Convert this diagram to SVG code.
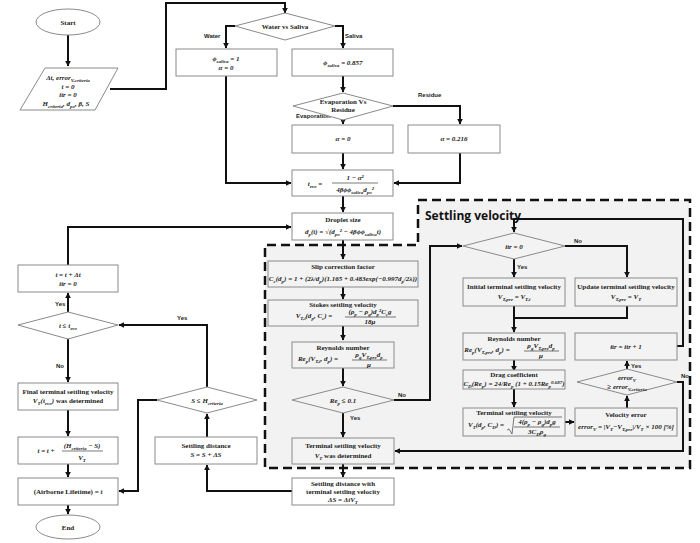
<svg xmlns="http://www.w3.org/2000/svg" width="700" height="543" viewBox="0 0 700 543">
<style>
.b{fill:#fff;stroke:#8a8a8a;stroke-width:1}
.g{fill:#f3f3f3;stroke:#8a8a8a;stroke-width:1}
.t{font-family:"Liberation Serif",serif;font-size:7px;font-weight:bold;fill:#222;text-anchor:middle}
.m{font-style:italic}
.s{font-size:5px}
.l{font-family:"Liberation Sans",sans-serif;font-size:6px;font-weight:bold;fill:#222}
.c{fill:none;stroke:#111;stroke-width:2}
.f{fill:none;stroke:#222;stroke-width:0.6}
</style>
<defs><marker id="a" viewBox="0 0 10 10" refX="9" refY="5" markerWidth="3" markerHeight="3" orient="auto"><path d="M0,0L10,5L0,10z" fill="#111"/></marker></defs>
<path d="M418,200H690V468H265V245H418Z" fill="#f2f2f2" stroke="#111" stroke-width="2.5" stroke-dasharray="9,5"/>
<text x="425" y="220" font-family="Open Sans,Liberation Sans,sans-serif" font-size="12" font-weight="bold" fill="#111">Settling velocity</text>
<g id="connectors" marker-end="url(#a)">
<path class="c" d="M68,35V66"/>
<path class="c" d="M110,89H166V3H285V13"/>
<path class="c" d="M235,26H226V48"/>
<path class="c" d="M335,26H343V48"/>
<path class="c" d="M343,76V92"/>
<path class="c" d="M343,120V124"/>
<path class="c" d="M393,106H460V124"/>
<path class="c" d="M343,153V169"/>
<path class="c" d="M226,76V183H291"/>
<path class="c" d="M460,153V183H394"/>
<path class="c" d="M343,196V212"/>
<path class="c" d="M343,240V259"/>
<path class="c" d="M343,287V299"/>
<path class="c" d="M343,326V340"/>
<path class="c" d="M343,368V386"/>
<path class="c" d="M343,413V437"/>
<path class="c" d="M343,464V477"/>
<path class="c" d="M394,400H430V246H462"/>
<path class="c" d="M514,259V277"/>
<path class="c" d="M565,246H627V277"/>
<path class="c" d="M514,306V318M627,306V318H514V332"/>
<path class="c" d="M514,360V371"/>
<path class="c" d="M514,389V407"/>
<path class="c" d="M565,422H574"/>
<path class="c" d="M627,408V396"/>
<path class="c" d="M627,369V361"/>
<path class="c" d="M677,346H683V219H514V232"/>
<path class="c" d="M677,382H683V451H395"/>
<path class="c" d="M292,491H207V465"/>
<path class="c" d="M207,437V414"/>
<path class="c" d="M207,387V325H119"/>
<path class="c" d="M157,400H138V491H119"/>
<path class="c" d="M68,312V293"/>
<path class="c" d="M68,265V227H291"/>
<path class="c" d="M68,339V382"/>
<path class="c" d="M68,410V436"/>
<path class="c" d="M68,464V477"/>
<path class="c" d="M68,505V514"/>
</g>
<g class="l">
<text x="204" y="38">Water</text><text x="345" y="38">Saliva</text>
<text x="296" y="118">Evaporation</text><text x="418" y="97">Residue</text>
<text x="398" y="397">No</text><text x="350" y="420">Yes</text>
<text x="574" y="243">No</text><text x="517" y="269">Yes</text>
<text x="631" y="368">Yes</text><text x="681" y="378">No</text>
<text x="177" y="320">Yes</text><text x="55" y="306">Yes</text><text x="56" y="368">No</text>
</g>
<g id="start"><ellipse cx="68" cy="22" rx="32" ry="13" class="b"/><text x="68" y="25" class="t" font-family="Liberation Sans">Start</text></g>
<g id="input"><path d="M45,68H118L95,110H20Z" class="b"/>
<text class="t"><tspan x="68" y="80" class="m">Δt, error<tspan class="s" dy="1.5">V,criteria</tspan></tspan><tspan x="68" y="89" class="m">t = 0</tspan><tspan x="68" y="97" class="m">itr = 0</tspan><tspan x="66" y="106" class="m">H<tspan class="s" dy="1.5">criteria</tspan><tspan dy="-1.5">, d</tspan><tspan class="s" dy="1.5">po</tspan><tspan dy="-1.5">, β, S</tspan></tspan></text></g>
<g id="wvs"><path d="M285,13L335,26L285,40L235,26Z" class="b"/><text x="285" y="29" class="t" font-family="Liberation Sans">Water vs Saliva</text></g>
<g id="water"><rect x="176" y="49" width="101" height="27" class="b"/><text class="t m"><tspan x="226" y="61">ϕ<tspan class="s" dy="1.5">saliva</tspan><tspan dy="-1.5"> = 1</tspan></tspan><tspan x="226" y="70">α = 0</tspan></text></g>
<g id="saliva"><rect x="292" y="49" width="101" height="27" class="b"/><text class="t m" x="343" y="65">ϕ<tspan class="s" dy="1.5">saliva</tspan><tspan dy="-1.5"> = 0.857</tspan></text></g>
<g id="evr"><path d="M343,93L393,106L343,120L293,106Z" class="b"/><text class="t" font-family="Liberation Sans" font-size="6"><tspan x="343" y="104">Evaporation Vs</tspan><tspan x="343" y="112">Residue</tspan></text></g>
<g id="a0"><rect x="292" y="125" width="101" height="28" class="b"/><text x="343" y="141" class="t m">α = 0</text></g>
<g id="a216"><rect x="408" y="125" width="92" height="28" class="b"/><text x="454" y="141" class="t m">α = 0.216</text></g>
<g id="tevo"><rect x="292" y="170" width="101" height="26" class="b"/><text class="t m"><tspan x="315" y="186">t<tspan class="s" dy="1.5">evo</tspan><tspan dy="-1.5"> =</tspan></tspan><tspan x="355" y="180">1 − α²</tspan><tspan x="355" y="192">4βϕϕ<tspan class="s" dy="1.5">saliva</tspan><tspan dy="-1.5">d</tspan><tspan class="s" dy="1.5">po</tspan><tspan dy="-1.5">²</tspan></tspan></text><path class="f" d="M332,183H378"/></g>
<g id="droplet"><rect x="292" y="213" width="101" height="27" class="b"/><text class="t"><tspan x="343" y="222">Droplet size</tspan><tspan x="343" y="234" class="m">d<tspan class="s" dy="1.5">p</tspan><tspan dy="-1.5">(t) = √(d</tspan><tspan class="s" dy="1.5">po</tspan><tspan dy="-1.5">² − 4βϕϕ</tspan><tspan class="s" dy="1.5">saliva</tspan><tspan dy="-1.5">t)</tspan></tspan></text></g>
<g id="slip"><rect x="268" y="261" width="150" height="26" class="g"/><text class="t"><tspan x="343" y="269">Slip correction factor</tspan><tspan x="343" y="281" class="m">C<tspan class="s" dy="1.5">c</tspan><tspan dy="-1.5">(d</tspan><tspan class="s" dy="1.5">p</tspan><tspan dy="-1.5">) = 1 + (2λ/d</tspan><tspan class="s" dy="1.5">p</tspan><tspan dy="-1.5">)(1.165 + 0.483exp(−0.997d</tspan><tspan class="s" dy="1.5">p</tspan><tspan dy="-1.5">/2λ))</tspan></tspan></text></g>
<g id="stokes"><rect x="268" y="300" width="150" height="26" class="g"/><text class="t"><tspan x="343" y="307">Stokes settling velocity</tspan><tspan x="314" y="318" class="m">V<tspan class="s" dy="1.5">T,i</tspan><tspan dy="-1.5">(d</tspan><tspan class="s" dy="1.5">p</tspan><tspan dy="-1.5">, C</tspan><tspan class="s" dy="1.5">c</tspan><tspan dy="-1.5">) =</tspan></tspan><tspan x="370" y="314" class="m">(ρ<tspan class="s" dy="1.5">p</tspan><tspan dy="-1.5"> − ρ</tspan><tspan class="s" dy="1.5">g</tspan><tspan dy="-1.5">)d</tspan><tspan class="s" dy="1.5">p</tspan><tspan dy="-1.5">²C</tspan><tspan class="s" dy="1.5">c</tspan><tspan dy="-1.5">g</tspan></tspan><tspan x="370" y="324" class="m">18μ</tspan></text><path class="f" d="M345,317H396"/></g>
<g id="rey1"><rect x="292" y="342" width="102" height="26" class="g"/><text class="t"><tspan x="343" y="350">Reynolds number</tspan><tspan x="318" y="361" class="m">Re<tspan class="s" dy="1.5">p</tspan><tspan dy="-1.5">(V</tspan><tspan class="s" dy="1.5">T,i</tspan><tspan dy="-1.5">, d</tspan><tspan class="s" dy="1.5">p</tspan><tspan dy="-1.5">) =</tspan></tspan><tspan x="369" y="357" class="m">ρ<tspan class="s" dy="1.5">g</tspan><tspan dy="-1.5">V</tspan><tspan class="s" dy="1.5">T,pre</tspan><tspan dy="-1.5">d</tspan><tspan class="s" dy="1.5">p</tspan></tspan><tspan x="369" y="367" class="m">μ</tspan></text><path class="f" d="M352,360H387"/></g>
<g id="rele"><path d="M343,387L394,400L343,413L292,400Z" class="g"/><text x="343" y="403" class="t m">Re<tspan class="s" dy="1.5">p</tspan><tspan dy="-1.5"> ≤ 0.1</tspan></text></g>
<g id="vtdet"><rect x="292" y="438" width="102" height="26" class="g"/><text class="t"><tspan x="343" y="448">Terminal settling velocity</tspan><tspan x="343" y="458"><tspan class="m">V<tspan class="s" dy="1.5">T</tspan></tspan><tspan dy="-1.5"> was determined</tspan></tspan></text></g>
<g id="sdist"><rect x="292" y="478" width="102" height="27" class="b"/><text class="t"><tspan x="343" y="486">Settling distance with</tspan><tspan x="343" y="494">terminal settling velocity</tspan><tspan x="343" y="502" class="m">ΔS = ΔtV<tspan class="s" dy="1.5">T</tspan></tspan></text></g>
<g id="itr0"><path d="M514,233L565,246L514,259L463,246Z" class="g"/><text x="514" y="249" class="t m">itr = 0</text></g>
<g id="init"><rect x="463" y="278" width="102" height="28" class="g"/><text class="t"><tspan x="514" y="289">Initial terminal settling velocity</tspan><tspan x="514" y="299" class="m">V<tspan class="s" dy="1.5">T,pre</tspan><tspan dy="-1.5"> = V</tspan><tspan class="s" dy="1.5">T,i</tspan></tspan></text></g>
<g id="upd"><rect x="575" y="278" width="102" height="28" class="g"/><text class="t"><tspan x="626" y="289">Update terminal settling velocity</tspan><tspan x="626" y="299" class="m">V<tspan class="s" dy="1.5">T,pre</tspan><tspan dy="-1.5"> = V</tspan><tspan class="s" dy="1.5">T</tspan></tspan></text></g>
<g id="rey2"><rect x="463" y="333" width="102" height="27" class="g"/><text class="t"><tspan x="514" y="341">Reynolds number</tspan><tspan x="487" y="352" class="m">Re<tspan class="s" dy="1.5">p</tspan><tspan dy="-1.5">(V</tspan><tspan class="s" dy="1.5">T,pre</tspan><tspan dy="-1.5">, d</tspan><tspan class="s" dy="1.5">p</tspan><tspan dy="-1.5">) =</tspan></tspan><tspan x="541" y="348" class="m">ρ<tspan class="s" dy="1.5">g</tspan><tspan dy="-1.5">V</tspan><tspan class="s" dy="1.5">T,pre</tspan><tspan dy="-1.5">d</tspan><tspan class="s" dy="1.5">p</tspan></tspan><tspan x="541" y="358" class="m">μ</tspan></text><path class="f" d="M524,351H559"/></g>
<g id="itrp"><rect x="575" y="333" width="102" height="27" class="g"/><text x="626" y="349" class="t m">itr = itr + 1</text></g>
<g id="drag"><rect x="463" y="370" width="102" height="19" class="g"/><text class="t"><tspan x="514" y="377">Drag coefficient</tspan><tspan x="514" y="386" class="m">C<tspan class="s" dy="1.5">D</tspan><tspan dy="-1.5">(Re</tspan><tspan class="s" dy="1.5">p</tspan><tspan dy="-1.5">) = 24/Re</tspan><tspan class="s" dy="1.5">p</tspan><tspan dy="-1.5"> (1 + 0.15Re</tspan><tspan class="s" dy="1.5">p</tspan><tspan class="s" dy="-4">0.687</tspan><tspan dy="2.5">)</tspan></tspan></text></g>
<g id="term2"><rect x="463" y="408" width="102" height="28" class="g"/><text class="t"><tspan x="514" y="415">Terminal settling velocity</tspan><tspan x="486" y="427" class="m">V<tspan class="s" dy="1.5">T</tspan><tspan dy="-1.5">(d</tspan><tspan class="s" dy="1.5">p</tspan><tspan dy="-1.5">, C</tspan><tspan class="s" dy="1.5">D</tspan><tspan dy="-1.5">) =</tspan></tspan><tspan x="537" y="424" class="m">4(ρ<tspan class="s" dy="1.5">p</tspan><tspan dy="-1.5"> − ρ</tspan><tspan class="s" dy="1.5">g</tspan><tspan dy="-1.5">)d</tspan><tspan class="s" dy="1.5">p</tspan><tspan dy="-1.5">g</tspan></tspan><tspan x="537" y="434" class="m">3C<tspan class="s" dy="1.5">D</tspan><tspan dy="-1.5">ρ</tspan><tspan class="s" dy="1.5">g</tspan></tspan></text><path class="f" d="M514,427H560M507,430L509,429L512,434L514,417H562"/></g>
<g id="verr"><rect x="575" y="408" width="102" height="28" class="g"/><text class="t"><tspan x="626" y="417">Velocity error</tspan><tspan x="626" y="429" class="m">error<tspan class="s" dy="1.5">V</tspan><tspan dy="-1.5"> = |V</tspan><tspan class="s" dy="1.5">T</tspan><tspan dy="-1.5">−V</tspan><tspan class="s" dy="1.5">T,pre</tspan><tspan dy="-1.5">|/V</tspan><tspan class="s" dy="1.5">T</tspan><tspan dy="-1.5"> × 100 [%]</tspan></tspan></text></g>
<g id="errd"><path d="M627,369L677,382L627,395L577,382Z" class="g"/><text class="t m"><tspan x="627" y="380">error<tspan class="s" dy="1.5">V</tspan></tspan><tspan x="627" y="389">≥ error<tspan class="s" dy="1.5">V,criteria</tspan></tspan></text></g>
<g id="tinc"><rect x="18" y="265" width="100" height="27" class="b"/><text class="t m"><tspan x="68" y="277">t = t + Δt</tspan><tspan x="68" y="286">itr = 0</tspan></text></g>
<g id="tle"><path d="M68,312L118,325L68,339L18,325Z" class="b"/><text x="68" y="328" class="t m">t ≤ t<tspan class="s" dy="1.5">evo</tspan></text></g>
<g id="final"><rect x="18" y="383" width="100" height="27" class="b"/><text class="t"><tspan x="68" y="394">Final terminal settling velocity</tspan><tspan x="68" y="403"><tspan class="m">V<tspan class="s" dy="1.5">T</tspan><tspan dy="-1.5">(t</tspan><tspan class="s" dy="1.5">evo</tspan><tspan dy="-1.5">)</tspan></tspan> was determined</tspan></text></g>
<g id="tfin"><rect x="18" y="437" width="100" height="27" class="b"/><text class="t m"><tspan x="46" y="453">t = t +</tspan><tspan x="82" y="448">(H<tspan class="s" dy="1.5">criteria</tspan><tspan dy="-1.5"> − S)</tspan></tspan><tspan x="82" y="460">V<tspan class="s" dy="1.5">T</tspan></tspan></text><path class="f" d="M62,451H103"/></g>
<g id="life"><rect x="18" y="478" width="100" height="27" class="b"/><text x="68" y="494" class="t">(Airborne Lifetime) = <tspan class="m">t</tspan></text></g>
<g id="end"><ellipse cx="68" cy="527" rx="32" ry="12" class="b"/><text x="68" y="530" class="t" font-family="Liberation Sans">End</text></g>
<g id="sle"><path d="M207,387L257,400L207,413L157,400Z" class="b"/><text x="207" y="403" class="t m">S ≤ H<tspan class="s" dy="1.5">criteria</tspan></text></g>
<g id="sinc"><rect x="155" y="437" width="102" height="27" class="b"/><text class="t"><tspan x="206" y="448">Settling distance</tspan><tspan x="206" y="457" class="m">S = S + ΔS</tspan></text></g>
</svg>
